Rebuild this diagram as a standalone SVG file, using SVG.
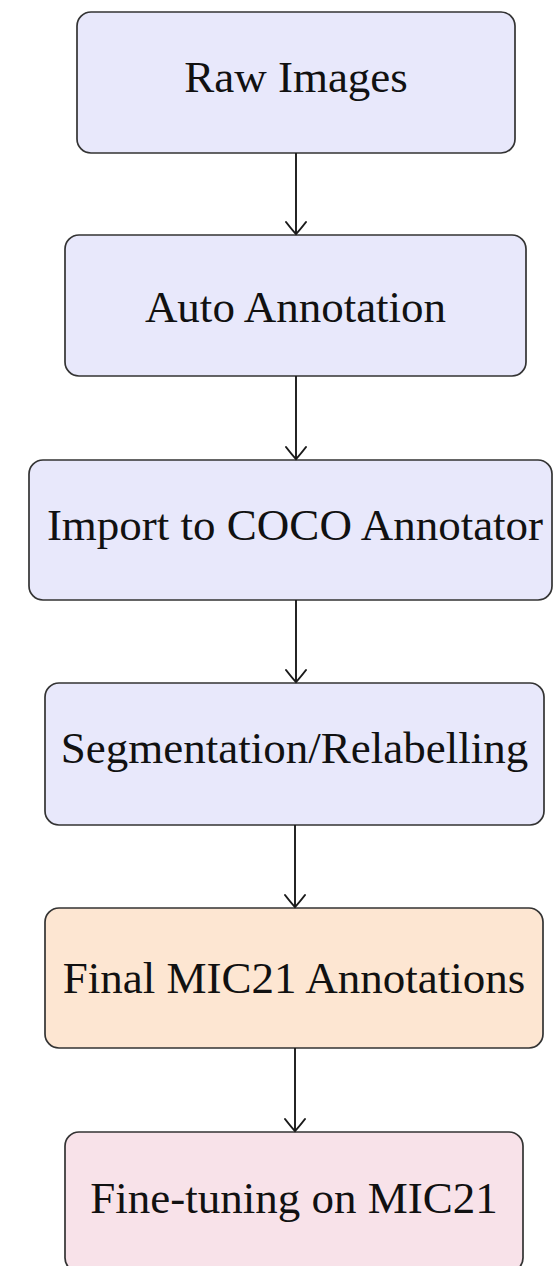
<svg xmlns="http://www.w3.org/2000/svg" width="554" height="1266" viewBox="0 0 554 1266">
  <style>
    .box { stroke: #333333; stroke-width: 1.7; }
    .step { fill: #e8e8fb; }
    .final { fill: #fde6d2; }
    .tune { fill: #f8e2e9; }
    .label { font-family: "Liberation Serif", "Times New Roman", serif; font-size: 45px; fill: #111; text-anchor: middle; }
    .edge { stroke: #1a1a1a; stroke-width: 1.9; fill: none; }
  </style>
  <defs>
    <!-- open curved "to" arrow tip -->
    <marker id="to" markerUnits="userSpaceOnUse" markerWidth="28" markerHeight="28" refX="0" refY="0" viewBox="-14 -14 28 28" orient="auto">
      <path d="M -12,-10 Q -3,-3 0,0 Q -3,3 -12,10" fill="none" stroke="#1a1a1a" stroke-width="2" stroke-linecap="round"/>
    </marker>
  </defs>
  <rect width="554" height="1266" fill="#ffffff"/>

  <g id="raw-images">
    <rect class="box step" x="77" y="12" width="438" height="141" rx="14"/>
    <text class="label" x="296" y="92">Raw Images</text>
  </g>

  <g id="auto-annotation">
    <rect class="box step" x="65" y="235" width="461" height="141" rx="14"/>
    <text class="label" x="295.5" y="322">Auto Annotation</text>
  </g>

  <g id="import-coco">
    <rect class="box step" x="29" y="460" width="523" height="140" rx="14"/>
    <text class="label" x="295" y="540">Import to COCO Annotator</text>
  </g>

  <g id="segmentation">
    <rect class="box step" x="45" y="683" width="499" height="142" rx="14"/>
    <text class="label" x="294.5" y="763">Segmentation/Relabelling</text>
  </g>

  <g id="final-annotations">
    <rect class="box final" x="45" y="908" width="498" height="140" rx="14"/>
    <text class="label" x="294" y="993">Final MIC21 Annotations</text>
  </g>

  <g id="fine-tuning">
    <rect class="box tune" x="65" y="1132" width="458" height="140" rx="14"/>
    <text class="label" x="294" y="1213">Fine-tuning on MIC21</text>
  </g>

  <g id="connectors">
    <line class="edge" x1="296" y1="153" x2="296" y2="234" marker-end="url(#to)"/>
    <line class="edge" x1="296" y1="376" x2="296" y2="459" marker-end="url(#to)"/>
    <line class="edge" x1="296" y1="600" x2="296" y2="682" marker-end="url(#to)"/>
    <line class="edge" x1="295" y1="825" x2="295" y2="907" marker-end="url(#to)"/>
    <line class="edge" x1="295" y1="1048" x2="295" y2="1131" marker-end="url(#to)"/>
  </g>
</svg>
